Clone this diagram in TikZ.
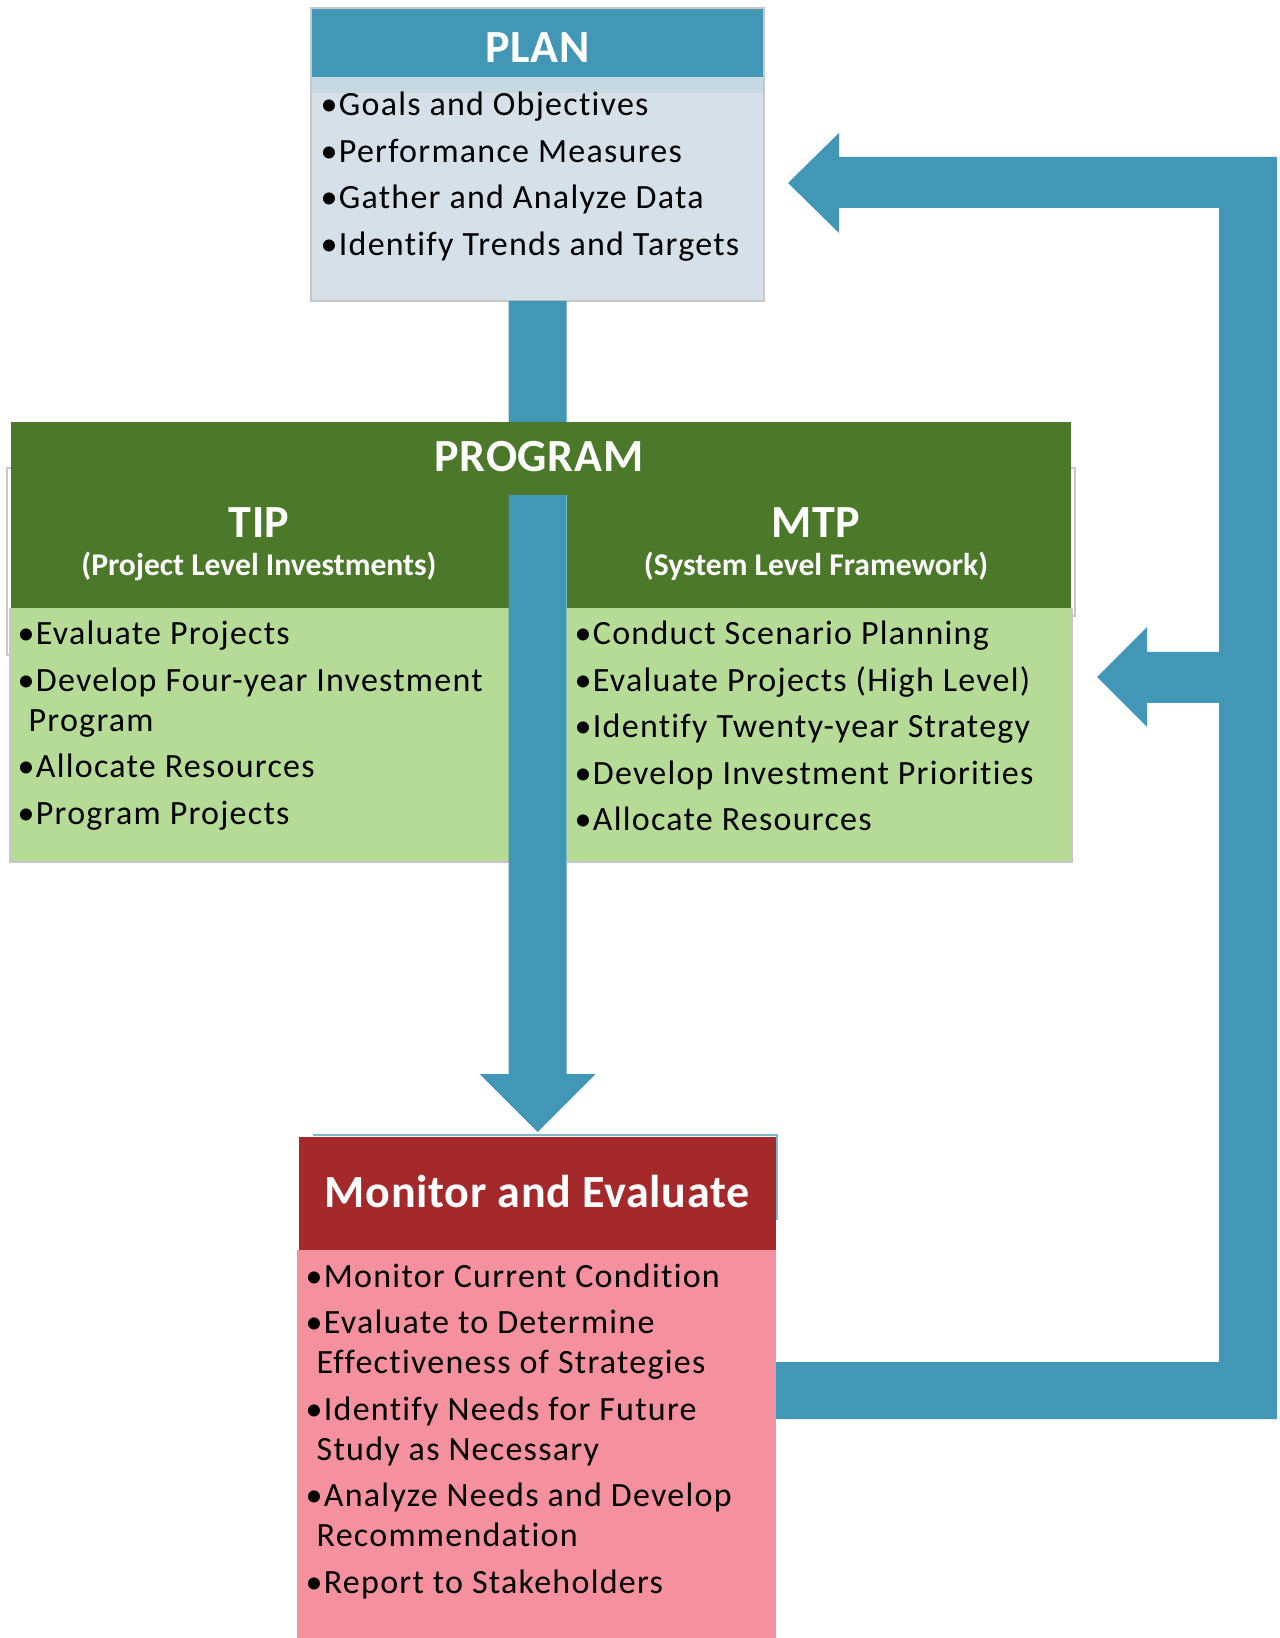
\documentclass[tikz,border=0pt]{standalone}
\usepackage{fontspec}
\setmainfont{Carlito}[Ligatures=CommonOff]
\usetikzlibrary{calc}

\definecolor{flowblue}{RGB}{67,151,182}
\definecolor{planbody}{RGB}{213,224,232}
\definecolor{planstrip}{RGB}{197,217,227}
\definecolor{proghead}{RGB}{76,120,42}
\definecolor{progbody}{RGB}{182,219,151}
\definecolor{evalhead}{RGB}{165,40,42}
\definecolor{evalbody}{RGB}{245,144,158}

\begin{document}
\begin{tikzpicture}[
    panel/.style={anchor=north west, inner sep=0pt, outer sep=0pt},
    title/.style={anchor=base, text=white, font=\fontsize{13.1}{15}\selectfont\bfseries\addfontfeature{LetterSpace=1.5}},
    subtitle/.style={anchor=base, text=white, font=\fontsize{9}{11}\selectfont\bfseries},
    item/.style={anchor=base west, inner sep=0pt, font=\fontsize{9.67}{11.4}\selectfont\addfontfeature{LetterSpace=3.7}},
    flow/.style={fill=flowblue},
    faint/.style={draw=black!22, line width=0.3pt}
]
\useasboundingbox (0,0) rectangle (12.79,-16.38);

% plan box
\node[panel, fill=flowblue, minimum width=4.53cm, minimum height=0.69cm] (plan) at (3.11,-0.08) {};
\node[panel, fill=planstrip, minimum width=4.53cm, minimum height=0.16cm] (planstrip) at (plan.south west) {};
\node[panel, fill=planbody, minimum width=4.53cm, minimum height=2.08cm] (planbody) at (planstrip.south west) {};
\draw[faint] (plan.north west) rectangle (planbody.south east);

% monitor box
\node[panel, fill=evalhead, minimum width=4.77cm, minimum height=1.13cm] (monitor) at (2.99,-11.37) {};
\node[panel, fill=evalbody, minimum width=4.79cm, minimum height=3.90cm] (monitorbody) at (2.97,-12.50) {};
\draw[flowblue!70, line width=0.3pt] (3.13,-11.35) -| (7.77,-12.20);

% program box
\draw[faint] (0.11,-4.68) -| (0.07,-6.55) -- (0.10,-6.55);
\draw[faint] (10.71,-4.68) -| (10.75,-6.16) -- (10.72,-6.16);
\node[panel, fill=proghead, minimum width=4.98cm, minimum height=1.13cm] (tip) at (0.11,-4.95) {};
\node[panel, fill=proghead, minimum width=5.04cm, minimum height=1.13cm] (mtp) at (5.67,-4.95) {};
\node[panel, fill=progbody, minimum width=4.99cm, minimum height=2.54cm] (tipbody) at (0.10,-6.08) {};
\node[panel, fill=progbody, minimum width=5.05cm, minimum height=2.54cm] (mtpbody) at (5.67,-6.08) {};
\draw[faint] (tipbody.north west) -- (tipbody.south west) -- (tipbody.south east);
\draw[faint] (mtpbody.south west) -- (mtpbody.south east) -- (mtpbody.north east);

% down arrow plan -> monitor
\fill[flow] ($(planbody.south)+(-0.29,0)$) |- ($(monitor.north)+(-0.58,0.63)$)
    -- ($(monitor.north)+(0,0.05)$) -- ($(monitor.north)+(0.58,0.63)$)
    -| ($(planbody.south)+(0.29,0)$) -- cycle;
\node[panel, fill=proghead, minimum width=10.60cm, minimum height=0.73cm] (program) at (0.11,-4.22) {};

% feedback loop
\fill[flow] (monitorbody.east |- 0,-13.62) -- (12.19,-13.62) -- (12.19,-7.03) -- (11.47,-7.03)
    -- (11.47,-7.27) -- (10.97,-6.77) -- (11.47,-6.27) -- (11.47,-6.52) -- (12.19,-6.52)
    -- (12.19,-2.08) -- (8.39,-2.08) -- (8.39,-2.33) -- (7.88,-1.83) -- (8.39,-1.33)
    -- (8.39,-1.57) -- (12.77,-1.57) -- (12.77,-14.19) -- (monitorbody.east |- 0,-14.19) -- cycle;

% titles
\node[title] (plantitle) at (5.375,-0.63) {PLAN};
\node[title] (programtitle) at (5.39,-4.72) {PROGRAM};
\node[title] (tiptitle) at (2.59,-5.38) {TIP};
\node[subtitle] (tipsub) at (2.59,-5.76) {(Project Level Investments)};
\node[title] (mtptitle) at (8.16,-5.38) {MTP};
\node[subtitle] (mtpsub) at (8.16,-5.76) {(System Level Framework)};
\node[title] (monitortitle) at (5.37,-12.07) {Monitor and Evaluate};

% bullet lists
\foreach \txt [count=\i] in {Goals and Objectives, Performance Measures,
    Gather and Analyze Data, Identify Trends and Targets}
  \node[item] (plan-\i) at (3.20,{-1.16-0.465*(\i-1)}) {\textbullet\txt};

\foreach \y/\x/\txt [count=\i] in {6.45/0.17/\textbullet Evaluate Projects,
    6.915/0.17/\textbullet Develop Four-year Investment,
    7.315/0.28/Program,
    7.78/0.17/\textbullet Allocate Resources,
    8.245/0.17/\textbullet Program Projects}
  \node[item] (tip-\i) at (\x,-\y) {\txt};

\foreach \txt [count=\i] in {Conduct Scenario Planning, Evaluate Projects (High Level),
    Identify Twenty-year Strategy, Develop Investment Priorities, Allocate Resources}
  \node[item] (mtp-\i) at (5.74,{-6.45-0.465*(\i-1)}) {\textbullet\txt};

\foreach \y/\x/\txt [count=\i] in {12.87/3.05/\textbullet Monitor Current Condition,
    13.335/3.05/\textbullet Evaluate to Determine,
    13.735/3.16/Effectiveness of Strategies,
    14.20/3.05/\textbullet Identify Needs for Future,
    14.60/3.16/Study as Necessary,
    15.065/3.05/\textbullet Analyze Needs and Develop,
    15.465/3.16/Recommendation,
    15.93/3.05/\textbullet Report to Stakeholders}
  \node[item] (monitor-\i) at (\x,-\y) {\txt};
\end{tikzpicture}
\end{document}
